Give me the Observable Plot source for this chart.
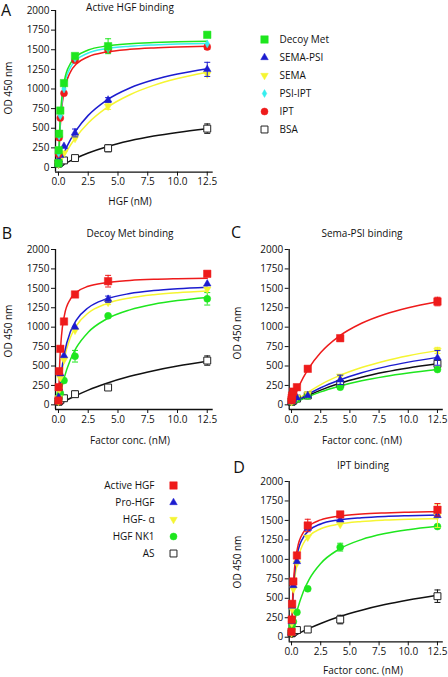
<!DOCTYPE html>
<html><head><meta charset="utf-8">
<script src="https://cdn.jsdelivr.net/npm/d3@7"></script>
<script src="https://cdn.jsdelivr.net/npm/@observablehq/plot@0.6"></script>
<style>
body{margin:0;background:#fff;}
#root{position:relative;width:448px;height:677px;overflow:hidden;font-family:"Open Sans",sans-serif;color:#111;}
.t{position:absolute;white-space:nowrap;transform:translate(-50%,-50%);font-size:10px;line-height:1.2;}
.letter{font-size:16px;line-height:1;}
.rot{transform:translate(-50%,-50%) rotate(-90deg);}
svg{position:absolute;overflow:visible;}
</style></head><body><div id="root"></div>
<script>
// ---------- shared scales / ticks ----------
const conc = [0, 0.017, 0.051, 0.154, 0.463, 1.39, 4.17, 12.5];
const fitConc = [0, 0.1, 0.25, 0.5, 1, 1.5, 2.5, 4, 6, 8, 10, 12.5];
const yTicks = [0, 250, 500, 750, 1000, 1250, 1500, 1750, 2000];
const xTicks = [0, 2.5, 5, 7.5, 10, 12.5];

// ---------- Panel A: Active HGF binding ----------
const seriesA = ["Decoy Met", "SEMA-PSI", "SEMA", "PSI-IPT", "IPT", "BSA"];
const A_decoyMet = [55, 220, 430, 725, 1075, 1420, 1545, 1690];
const A_decoyMet_err = [0, 0, 0, 0, 0, 0, 95, 0];
const A_decoyMet_fit = [0, 482, 837, 1108, 1323, 1414, 1496, 1547, 1577, 1592, 1602, 1609];
const A_semaPsi = [40, 60, 95, 155, 270, 440, 860, 1250];
const A_semaPsi_err = [0, 0, 0, 0, 0, 50, 30, 90];
const A_semaPsi_fit = [0, 44, 105, 198, 352, 476, 664, 853, 1013, 1117, 1191, 1258];
const A_sema = [40, 50, 70, 110, 185, 370, 780, 1190];
const A_sema_err = [0, 0, 0, 0, 0, 0, 40, 0];
const A_sema_fit = [0, 33, 81, 155, 283, 392, 567, 756, 927, 1046, 1133, 1214];
const A_psiIpt = [50, 180, 400, 660, 1000, 1390, 1510, 1575];
const A_psiIpt_err = [0, 0, 0, 0, 0, 0, 0, 0];
const A_psiIpt_fit = [0, 436, 776, 1049, 1272, 1369, 1458, 1513, 1545, 1562, 1573, 1581];
const A_ipt = [50, 170, 380, 630, 945, 1365, 1495, 1535];
const A_ipt_err = [0, 0, 0, 0, 0, 0, 0, 30];
const A_ipt_fit = [0, 395, 718, 988, 1215, 1317, 1411, 1470, 1505, 1523, 1534, 1543];
const A_bsa = [50, 55, 60, 70, 90, 120, 245, 495];
const A_bsa_err = [0, 0, 0, 0, 0, 0, 45, 60];
const A_bsa_fit = [0, 9, 23, 45, 85, 121, 185, 262, 340, 400, 447, 494];

// ---------- Factor series (Panels B, C, D) ----------
const seriesF = ["Active HGF", "Pro-HGF", "HGF- α", "HGF NK1", "AS"];
// Panel B: Decoy Met binding
const B_active = [55, 227, 433, 721, 1073, 1421, 1592, 1687];
const B_active_err = [0, 0, 0, 0, 0, 0, 75, 20];
const B_active_fit = [0, 519, 883, 1153, 1361, 1448, 1526, 1573, 1601, 1616, 1624, 1631];
const B_pro = [45, 100, 218, 400, 635, 1000, 1360, 1558];
const B_pro_err = [0, 0, 0, 0, 0, 0, 40, 0];
const B_pro_fit = [0, 200, 421, 667, 941, 1091, 1250, 1362, 1433, 1471, 1495, 1515];
const B_alpha = [45, 90, 190, 350, 580, 960, 1320, 1490];
const B_alpha_err = [0, 0, 0, 0, 0, 0, 30, 0];
const B_alpha_fit = [0, 173, 371, 600, 867, 1017, 1182, 1300, 1376, 1418, 1444, 1466];
const B_nk1 = [45, 70, 100, 150, 313, 626, 1146, 1365];
const B_nk1_err = [0, 0, 0, 0, 0, 75, 0, 80];
const B_nk1_fit = [0, 87, 201, 357, 581, 736, 935, 1102, 1223, 1295, 1342, 1382];
const B_as = [40, 45, 50, 60, 85, 137, 223, 570];
const B_as_err = [0, 0, 0, 0, 0, 40, 0, 60];
const B_as_fit = [0, 9, 22, 44, 85, 122, 190, 275, 367, 440, 500, 561];
// Panel C: Sema-PSI binding
const C_active = [60, 90, 120, 170, 227, 464, 858, 1330];
const C_active_err = [0, 0, 0, 0, 0, 0, 35, 55];
const C_active_fit = [0, 43, 103, 194, 350, 477, 673, 875, 1050, 1167, 1250, 1326];
const C_pro = [40, 50, 60, 70, 90, 120, 322, 605];
const C_pro_err = [0, 0, 0, 0, 0, 0, 60, 95];
const C_pro_fit = [0, 11, 27, 52, 100, 143, 220, 314, 413, 489, 550, 611];
const C_alpha = [40, 50, 60, 75, 95, 140, 370, 700];
const C_alpha_err = [0, 0, 0, 0, 0, 0, 0, 40];
const C_alpha_fit = [0, 13, 32, 63, 120, 171, 261, 369, 480, 565, 632, 698];
const C_nk1 = [40, 45, 50, 55, 75, 115, 227, 455];
const C_nk1_err = [0, 0, 0, 0, 0, 0, 0, 0];
const C_nk1_fit = [0, 8, 21, 40, 76, 109, 167, 237, 310, 366, 410, 455];
const C_as = [40, 45, 50, 55, 80, 120, 270, 528];
const C_as_err = [0, 0, 0, 0, 0, 0, 0, 50];
const C_as_fit = [0, 9, 23, 45, 86, 124, 190, 271, 356, 422, 475, 528];
// Panel D: IPT binding
const D_active = [70, 227, 429, 716, 1050, 1435, 1577, 1637];
const D_active_err = [0, 0, 0, 0, 0, 80, 0, 80];
const D_active_fit = [0, 513, 872, 1139, 1344, 1430, 1507, 1554, 1582, 1596, 1605, 1612];
const D_pro = [60, 200, 400, 665, 973, 1400, 1508, 1564];
const D_pro_err = [0, 0, 0, 0, 0, 0, 0, 0];
const D_pro_fit = [0, 457, 800, 1067, 1280, 1371, 1455, 1506, 1536, 1552, 1561, 1569];
const D_alpha = [55, 180, 360, 620, 950, 1285, 1448, 1560];
const D_alpha_err = [0, 0, 0, 0, 0, 0, 0, 150];
const D_alpha_fit = [0, 390, 709, 975, 1200, 1300, 1393, 1451, 1486, 1504, 1515, 1523];
const D_nk1 = [60, 100, 150, 200, 321, 622, 1157, 1422];
const D_nk1_err = [0, 0, 0, 0, 0, 0, 50, 0];
const D_nk1_fit = [0, 86, 199, 354, 582, 741, 948, 1124, 1254, 1331, 1381, 1425];
const D_as = [50, 55, 60, 70, 92, 99, 227, 527];
const D_as_err = [0, 0, 0, 0, 0, 0, 55, 80];
const D_as_fit = [0, 8, 21, 41, 79, 114, 177, 259, 347, 419, 478, 539];

// ---------- styles ----------
const GREEN = "#1ee61e", BLUE = "#1c1ccf", YELLOW = "#f5f532", CYAN = "#36eeee", RED = "#ee1b1b";
const triangleDown = {draw(ctx, size) {
  const y = -Math.sqrt(size / (3 * Math.sqrt(3))), s3 = Math.sqrt(3);
  ctx.moveTo(0, -y * 2); ctx.lineTo(-s3 * y, y); ctx.lineTo(s3 * y, y); ctx.closePath();
}};
const capSym = {draw(ctx) { ctx.moveTo(-3, 0); ctx.lineTo(3, 0); }};
const styleA = {
  "Decoy Met": {fill: GREEN, stroke: GREEN, symbol: "square", r: 4.2},
  "SEMA-PSI": {fill: BLUE, stroke: BLUE, symbol: "triangle", r: 2.8},
  "SEMA": {fill: YELLOW, stroke: YELLOW, symbol: triangleDown, r: 2.8},
  "PSI-IPT": {fill: CYAN, stroke: CYAN, symbol: "diamond", r: 2.4},
  "IPT": {fill: RED, stroke: RED, symbol: "circle", r: 3.5},
  "BSA": {fill: "#fff", stroke: "#222", symbol: "square", r: 3.9, line: "#111", sw: 1}
};
const styleF = {
  "Active HGF": {fill: RED, stroke: RED, symbol: "square", r: 4.2},
  "Pro-HGF": {fill: BLUE, stroke: BLUE, symbol: "triangle", r: 2.8},
  "HGF- α": {fill: YELLOW, stroke: YELLOW, symbol: triangleDown, r: 2.8},
  "HGF NK1": {fill: GREEN, stroke: GREEN, symbol: "circle", r: 3.5},
  "AS": {fill: "#fff", stroke: "#222", symbol: "square", r: 3.9, line: "#111", sw: 1}
};

const root = document.getElementById("root");
function text(str, x, y, cls = "") {
  const d = document.createElement("div");
  d.className = "t " + cls; d.textContent = str;
  d.style.left = x + "px"; d.style.top = y + "px";
  root.appendChild(d);
}

function panel(cfg) {
  const yMin = -60;
  const marks = [
    Plot.ruleX([cfg.xDom[0]], {y1: yMin, y2: 2000, strokeWidth: 1.3, stroke: "#111"}),
    Plot.ruleY([yMin], {x1: cfg.xDom[0], x2: cfg.xDom[1], strokeWidth: 1.3, stroke: "#111"}),
    Plot.axisY({ticks: yTicks, tickSize: 4, tickPadding: 2, label: null, tickFormat: d => String(d)}),
    Plot.axisX({ticks: xTicks, tickSize: 4, tickPadding: 2, label: null, tickFormat: d3.format(".1f")})
  ];
  for (const s of cfg.lineOrder) {
    const st = cfg.styles[s.name];
    marks.push(Plot.line(fitConc.map((x, i) => ({x, y: s.fit[i]})),
      {x: "x", y: "y", stroke: st.line || st.stroke, strokeWidth: 1.5, curve: "monotone-x"}));
  }
  for (const s of cfg.dotOrder) {
    const st = cfg.styles[s.name];
    const pts = conc.map((x, i) => ({x, v: s.vals[i], e: s.err[i]}));
    const eb = pts.filter(p => p.e > 0);
    const ec = st.line || st.stroke;
    marks.push(Plot.ruleX(eb, {x: "x", y1: d => d.v - d.e, y2: d => d.v + d.e, stroke: ec, strokeWidth: 1}));
    marks.push(Plot.dot(eb, {x: "x", y: d => d.v + d.e, symbol: capSym, r: 3, stroke: ec, fill: "none", strokeWidth: 1}));
    marks.push(Plot.dot(eb, {x: "x", y: d => d.v - d.e, symbol: capSym, r: 3, stroke: ec, fill: "none", strokeWidth: 1}));
    marks.push(Plot.dot(pts, {x: "x", y: "v", symbol: st.symbol, r: st.r, fill: st.fill, stroke: st.stroke, strokeWidth: st.sw || 0.5}));
  }
  const svg = Plot.plot({
    width: cfg.width, height: cfg.height,
    marginLeft: cfg.mL, marginRight: cfg.mR, marginTop: cfg.mT, marginBottom: cfg.mB,
    x: {domain: cfg.xDom}, y: {domain: [yMin, 2000]},
    style: {fontFamily: "'Open Sans', sans-serif", fontSize: "10px", color: "#111", background: "transparent", overflow: "visible"},
    marks
  });
  svg.style.left = cfg.left + "px"; svg.style.top = cfg.top + "px";
  root.appendChild(svg);
}

function legend(cfg) {
  const marks = [];
  for (const n of cfg.names) {
    const st = cfg.styles[n];
    marks.push(Plot.dot([n], {y: d => d, frameAnchor: "left", dx: cfg.markerX, symbol: st.symbol, r: st.r, fill: st.fill, stroke: st.stroke, strokeWidth: st.sw || 0.5}));
  }
  marks.push(Plot.text(cfg.names, {y: d => d, text: d => d, frameAnchor: "left", dx: cfg.textX, textAnchor: cfg.anchor, fill: "#111"}));
  const svg = Plot.plot({
    width: cfg.width, height: cfg.height, margin: 0,
    y: {type: "point", domain: cfg.names, range: cfg.range, padding: 0, axis: null},
    style: {fontFamily: "'Open Sans', sans-serif", fontSize: "10px", background: "transparent", overflow: "visible"},
    marks
  });
  svg.style.left = cfg.left + "px"; svg.style.top = cfg.top + "px";
  root.appendChild(svg);
}

const mk = (name, vals, err, fit) => ({name, vals, err, fit});

// Panel A
const aS = {
  dm: mk("Decoy Met", A_decoyMet, A_decoyMet_err, A_decoyMet_fit),
  sp: mk("SEMA-PSI", A_semaPsi, A_semaPsi_err, A_semaPsi_fit),
  se: mk("SEMA", A_sema, A_sema_err, A_sema_fit),
  pi: mk("PSI-IPT", A_psiIpt, A_psiIpt_err, A_psiIpt_fit),
  ip: mk("IPT", A_ipt, A_ipt_err, A_ipt_fit),
  bs: mk("BSA", A_bsa, A_bsa_err, A_bsa_fit)
};
panel({left: 0, top: 0, width: 222, height: 210, mL: 55, mR: 9.3, mT: 10, mB: 38.3, xDom: [-0.25, 13.0],
  styles: styleA,
  lineOrder: [aS.bs, aS.se, aS.sp, aS.ip, aS.pi, aS.dm],
  dotOrder: [aS.bs, aS.se, aS.sp, aS.ip, aS.pi, aS.dm]});

function fset(p) {
  return {
    ac: mk("Active HGF", p[0], p[1], p[2]),
    pr: mk("Pro-HGF", p[3], p[4], p[5]),
    al: mk("HGF- α", p[6], p[7], p[8]),
    nk: mk("HGF NK1", p[9], p[10], p[11]),
    as: mk("AS", p[12], p[13], p[14])
  };
}
const bS = fset([B_active, B_active_err, B_active_fit, B_pro, B_pro_err, B_pro_fit, B_alpha, B_alpha_err, B_alpha_fit, B_nk1, B_nk1_err, B_nk1_fit, B_as, B_as_err, B_as_fit]);
const cS = fset([C_active, C_active_err, C_active_fit, C_pro, C_pro_err, C_pro_fit, C_alpha, C_alpha_err, C_alpha_fit, C_nk1, C_nk1_err, C_nk1_fit, C_as, C_as_err, C_as_fit]);
const dS = fset([D_active, D_active_err, D_active_fit, D_pro, D_pro_err, D_pro_fit, D_alpha, D_alpha_err, D_alpha_fit, D_nk1, D_nk1_err, D_nk1_fit, D_as, D_as_err, D_as_fit]);
const ord = s => [s.as, s.nk, s.al, s.pr, s.ac];

panel({left: 0, top: 240, width: 222, height: 210, mL: 55, mR: 9.3, mT: 9, mB: 41, xDom: [-0.25, 13.0],
  styles: styleF, lineOrder: ord(bS), dotOrder: ord(bS)});
panel({left: 232, top: 240, width: 216, height: 210, mL: 56.7, mR: 5.2, mT: 9, mB: 41, xDom: [-0.2, 13.0],
  styles: styleF, lineOrder: ord(cS), dotOrder: ord(cS)});
panel({left: 232, top: 472, width: 216, height: 210, mL: 56.7, mR: 5.2, mT: 9, mB: 40.6, xDom: [-0.2, 13.0],
  styles: styleF, lineOrder: ord(dS), dotOrder: ord(dS)});

legend({left: 250, top: 30, width: 150, height: 110, names: seriesA, styles: styleA, range: [9, 99], markerX: 14, textX: 29, anchor: "start"});
legend({left: 0, top: 474, width: 190, height: 90, names: seriesF, styles: styleF, range: [9, 80], markerX: 173, textX: 154, anchor: "end"});

// texts
text("A", 6, 10, "letter");
text("B", 7, 233, "letter");
text("C", 236, 232, "letter");
text("D", 239, 467, "letter");
text("Active HGF binding", 130, 7);
text("Decoy Met binding", 130, 233);
text("Sema-PSI binding", 362, 233);
text("IPT binding", 363, 465);
text("HGF (nM)", 130, 201);
text("Factor conc. (nM)", 130, 440);
text("Factor conc. (nM)", 362, 440);
text("Factor conc. (nM)", 363, 670);
text("OD 450 nm", 8, 88, "rot");
text("OD 450 nm", 8, 331, "rot");
text("OD 450 nm", 237, 333, "rot");
text("OD 450 nm", 237, 562, "rot");
</script></body></html>
